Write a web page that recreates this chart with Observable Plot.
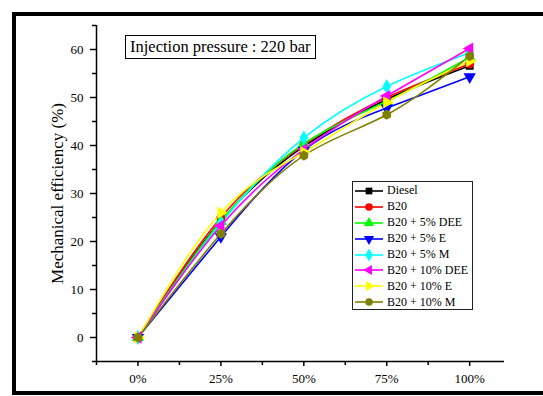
<!DOCTYPE html>
<html>
<head>
<meta charset="utf-8">
<script src="https://cdn.jsdelivr.net/npm/d3@7"></script>
<script src="https://cdn.jsdelivr.net/npm/@observablehq/plot@0.6"></script>
<style>
  html, body { margin: 0; padding: 0; background: #fff; overflow: hidden; }
  #wrap { position: relative; width: 543px; height: 396px; overflow: hidden; font-family: "Liberation Serif", "Times New Roman", serif; }
  #chart { position: absolute; left: 0; top: 0; }
  #frame { position: absolute; left: 12px; top: 12px; width: 560px; height: 383px; border: 4px solid #000; box-sizing: border-box; pointer-events: none; }
  #title { position: absolute; left: 125px; top: 35px; border: 1px solid #000; padding: 1px 4px 1px 4px; font-size: 16.5px; line-height: 20px; background: #fff; white-space: nowrap; }
  #legend { position: absolute; left: 352px; top: 181px; width: 121px; height: 129px; box-sizing: border-box; border: 1px solid #222; background: #fff; padding: 1px 0 0 0; }
  .row { display: flex; align-items: center; height: 15.9px; font-size: 12px; white-space: nowrap; }
  .row svg { flex: none; margin-left: 1px; margin-right: 3px; }
</style>
</head>
<body>
<div id="wrap">
  <div id="chart"></div>
  <div id="title">Injection pressure : 220 bar</div>
  <div id="legend"></div>
  <div id="frame"></div>
</div>
<script>
// ---- data ----
const loads = [0, 25, 50, 75, 100];
const loadLabels = ["0%", "25%", "50%", "75%", "100%"];
const seriesNames = ["Diesel", "B20", "B20 + 5% DEE", "B20 + 5% E", "B20 + 5% M", "B20 + 10% DEE", "B20 + 10% E", "B20 + 10% M"];
const diesel = [0, 24.3, 39.8, 49.6, 56.6];
const b20 = [0, 25.0, 40.2, 50.0, 57.0];
const b20dee5 = [0, 24.2, 40.4, 49.2, 58.4];
const b20e5 = [0, 21.0, 39.0, 47.8, 54.3];
const b20m5 = [0, 23.8, 41.6, 52.3, 59.3];
const b20dee10 = [0, 23.3, 39.2, 50.3, 60.2];
const b20e10 = [0, 26.0, 38.6, 49.0, 57.6];
const b20m10 = [0, 21.6, 37.9, 46.4, 58.6];
const seriesValues = [diesel, b20, b20dee5, b20e5, b20m5, b20dee10, b20e10, b20m10];
const seriesColors = ["#000000", "#ff0000", "#00ff00", "#0000ff", "#00ffff", "#ff00ff", "#ffff00", "#808000"];
const seriesSymbols = ["square", "circle", "triangle", "triangle", "diamond", "triangle", "triangle", "hexagon"];
const seriesRotate = [0, 0, 0, 180, 0, -90, 90, 0];
const yTicks = [0, 10, 20, 30, 40, 50, 60];
const yMinor = [-5, 5, 15, 25, 35, 45, 55, 65];
const xMinor = [-12.5, 12.5, 37.5, 62.5, 87.5];
const yLabel = "Mechanical efficiency (%)";

const rows = seriesNames.flatMap((name, i) =>
  loads.map((x, j) => ({series: name, idx: i, x, y: seriesValues[i][j]})));

const chart = Plot.plot({
  width: 543,
  height: 396,
  marginLeft: 96,
  marginRight: 39,
  marginTop: 25,
  marginBottom: 35,
  style: {fontFamily: "Liberation Serif, Times New Roman, serif", fontSize: "13px", color: "#000", background: "transparent"},
  x: {domain: [-12.5, 110.5]},
  y: {domain: [-5, 65]},
  color: {domain: seriesNames, range: seriesColors},
  symbol: {domain: seriesNames, range: seriesSymbols},
  marks: [
    Plot.axisX({ticks: loads, tickFormat: (d) => loadLabels[loads.indexOf(d)], tickSize: 5, tickPadding: 7, strokeWidth: 1.5, fontSize: 13, label: null}),
    Plot.axisX({ticks: xMinor, tickFormat: () => "", tickSize: 4, strokeWidth: 1.5, label: null}),
    Plot.axisY({ticks: yTicks, tickSize: 6, tickPadding: 7, strokeWidth: 1.5, fontSize: 13, label: null}),
    Plot.axisY({ticks: yMinor, tickFormat: () => "", tickSize: 4, strokeWidth: 1.5, label: null}),
    Plot.ruleX([-12.5], {strokeWidth: 1.5}),
    Plot.ruleY([-5], {strokeWidth: 1.5}),
    Plot.text([yLabel], {frameAnchor: "left", textAnchor: "middle", rotate: -90, dx: -39, fontSize: 17}),
    Plot.line(rows, {x: "x", y: "y", z: "series", stroke: "series", strokeWidth: 1.6, curve: "natural"}),
    Plot.dot(rows, {x: "x", y: "y", symbol: "series", fill: "series", stroke: "series", r: 3.6, rotate: (d) => seriesRotate[d.idx]})
  ]
});
document.getElementById("chart").appendChild(chart);

// legend
const legend = document.getElementById("legend");
const symMap = {square: d3.symbolSquare, circle: d3.symbolCircle, triangle: d3.symbolTriangle, diamond: d3.symbolDiamond, hexagon: d3.symbolCircle};
seriesNames.forEach((name, i) => {
  const row = document.createElement("div");
  row.className = "row";
  const sym = d3.symbol(symMap[seriesSymbols[i]], seriesSymbols[i] === "diamond" ? 50 : 45)();
  row.innerHTML = `<svg width="30" height="14" viewBox="0 0 30 14"><line x1="1" x2="29" y1="7" y2="7" stroke="${seriesColors[i]}" stroke-width="1.6"/><path d="${sym}" transform="translate(15,7) rotate(${seriesRotate[i]})" fill="${seriesColors[i]}"/></svg><span>${name}</span>`;
  legend.appendChild(row);
});
</script>
</body>
</html>
